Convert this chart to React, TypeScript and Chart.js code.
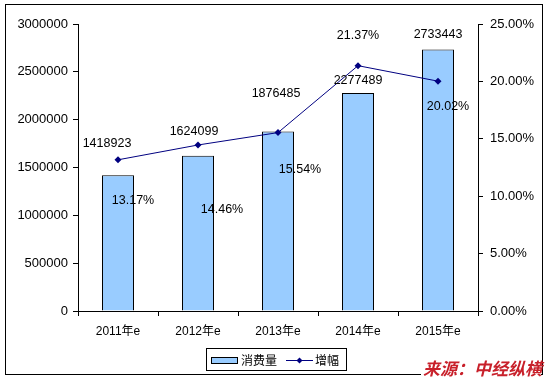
import React, { useEffect, useRef } from "react";
import { Chart, registerables } from "chart.js";

Chart.register(...registerables);

const categories = ["2011年e", "2012年e", "2013年e", "2014年e", "2015年e"];
const consumption = [1418923, 1624099, 1876485, 2277489, 2733443];
const growth = [13.17, 14.46, 15.54, 21.37, 20.02];
const leftTicks = { min: 0, max: 3000000, step: 500000 };
const rightTicks = { min: 0, max: 25, step: 5 };
const seriesNames = ["消费量", "增幅"];
const sourceText = "来源：中经纵横";

// label offsets relative to the mark (manual placement as in reference)
const barLabelOffsets = [[-11, -32], [-4, -24], [-2, -38], [0, -13], [0, -15]];
const lineLabelOffsets = [[15, 41], [24, 65], [22, 37], [0, -30], [10, 25]];

const FONT = "'Liberation Sans', Arial, 'Noto Sans CJK SC', sans-serif";
const BAR_COLOR = "#99ccff";
const LINE_COLOR = "#000080";

const decorPlugin = {
  id: "decor",
  afterDatasetsDraw(chart: any) {
    const ctx = chart.ctx;
    ctx.save();
    ctx.font = `12.5px ${FONT}`;
    ctx.fillStyle = "#000";
    ctx.textAlign = "center";
    ctx.textBaseline = "middle";
    const barMeta = chart.getDatasetMeta(0);
    barMeta.data.forEach((el: any, i: number) => {
      const [dx, dy] = barLabelOffsets[i];
      ctx.fillText(String(consumption[i]), el.x + dx, el.y + dy);
    });
    const lineMeta = chart.getDatasetMeta(1);
    lineMeta.data.forEach((el: any, i: number) => {
      const [dx, dy] = lineLabelOffsets[i];
      ctx.fillText(growth[i].toFixed(2) + "%", el.x + dx, el.y + dy);
    });
    ctx.restore();
  },
  afterDraw(chart: any) {
    const ctx = chart.ctx;
    ctx.save();
    // outer border
    ctx.strokeStyle = "#000";
    ctx.lineWidth = 1;
    ctx.strokeRect(5.5, 4.5, 537, 370);
    // legend
    ctx.fillStyle = "#fff";
    ctx.fillRect(206.5, 348.5, 140, 22);
    ctx.strokeRect(206.5, 348.5, 140, 22);
    ctx.fillStyle = BAR_COLOR;
    ctx.fillRect(211.5, 357.5, 26, 6);
    ctx.strokeRect(211.5, 357.5, 26, 6);
    ctx.font = `12px 'Noto Sans CJK SC', sans-serif`;
    ctx.fillStyle = "#000";
    ctx.textAlign = "left";
    ctx.textBaseline = "middle";
    ctx.fillText(seriesNames[0], 241, 360);
    ctx.strokeStyle = LINE_COLOR;
    ctx.beginPath();
    ctx.moveTo(286, 360.5);
    ctx.lineTo(313, 360.5);
    ctx.stroke();
    ctx.fillStyle = LINE_COLOR;
    ctx.beginPath();
    ctx.moveTo(299.5, 357.5);
    ctx.lineTo(302.5, 360.5);
    ctx.lineTo(299.5, 363.5);
    ctx.lineTo(296.5, 360.5);
    ctx.closePath();
    ctx.fill();
    ctx.fillStyle = "#000";
    ctx.fillText(seriesNames[1], 315, 360);
    // source text
    ctx.font = `italic bold 17px 'Noto Sans CJK SC', sans-serif`;
    const w = ctx.measureText(sourceText).width;
    ctx.fillStyle = "#fff";
    ctx.fillRect(542 - w - 2, 361, w + 1, 14);
    ctx.fillStyle = "#c8202a";
    ctx.textAlign = "right";
    ctx.fillText(sourceText, 542, 369);
    ctx.restore();
  },
};

export default function App() {
  const ref = useRef<HTMLCanvasElement>(null);
  useEffect(() => {
    document.body.style.margin = "0";
    const canvas = ref.current!;
    const chart = new Chart(canvas, {
      type: "bar",
      data: {
        labels: categories,
        datasets: [
          {
            type: "bar",
            label: seriesNames[0],
            data: consumption,
            backgroundColor: BAR_COLOR,
            borderColor: "#000",
            borderWidth: 1,
            barPercentage: 0.4,
            categoryPercentage: 1,
            yAxisID: "y",
            order: 2,
          },
          {
            type: "line",
            label: seriesNames[1],
            data: growth,
            borderColor: LINE_COLOR,
            backgroundColor: LINE_COLOR,
            borderWidth: 1,
            pointStyle: "rectRot",
            pointRadius: 3.5,
            pointBorderWidth: 0,
            yAxisID: "y1",
            order: 1,
          },
        ],
      },
      options: {
        responsive: false,
        animation: false,
        layout: { padding: { top: 24, left: 0, right: 0, bottom: 0 } },
        plugins: { legend: { display: false }, tooltip: { enabled: false } },
        scales: {
          x: {
            offset: true,
            grid: { offset: true, drawOnChartArea: false, drawTicks: true, tickLength: 5, color: "#000" },
            border: { display: true, color: "#000" },
            ticks: { color: "#000", font: { family: FONT, size: 12 }, padding: 8, maxRotation: 0 },
            afterFit: (s: any) => { s.height = 70; },
          },
          y: {
            position: "left",
            min: leftTicks.min,
            max: leftTicks.max,
            ticks: {
              stepSize: leftTicks.step,
              color: "#000",
              font: { family: FONT, size: 13 },
              padding: 5,
              callback: (v: any) => String(v),
            },
            grid: { drawOnChartArea: false, drawTicks: true, tickLength: 5, color: "#000" },
            border: { display: true, color: "#000" },
            afterFit: (s: any) => { s.width = 78; },
          },
          y1: {
            position: "right",
            min: rightTicks.min,
            max: rightTicks.max,
            ticks: {
              stepSize: rightTicks.step,
              color: "#000",
              font: { family: FONT, size: 13 },
              padding: 7,
              callback: (v: any) => Number(v).toFixed(2) + "%",
            },
            grid: { drawOnChartArea: false, drawTicks: true, tickLength: 5, color: "#000" },
            border: { display: true, color: "#000" },
            afterFit: (s: any) => { s.width = 69; },
          },
        },
      },
      plugins: [decorPlugin],
    } as any);
    return () => chart.destroy();
  }, []);
  return (
    <div style={{ width: 547, height: 381 }}>
      <canvas ref={ref} width={547} height={381} style={{ display: "block" }} />
    </div>
  );
}
